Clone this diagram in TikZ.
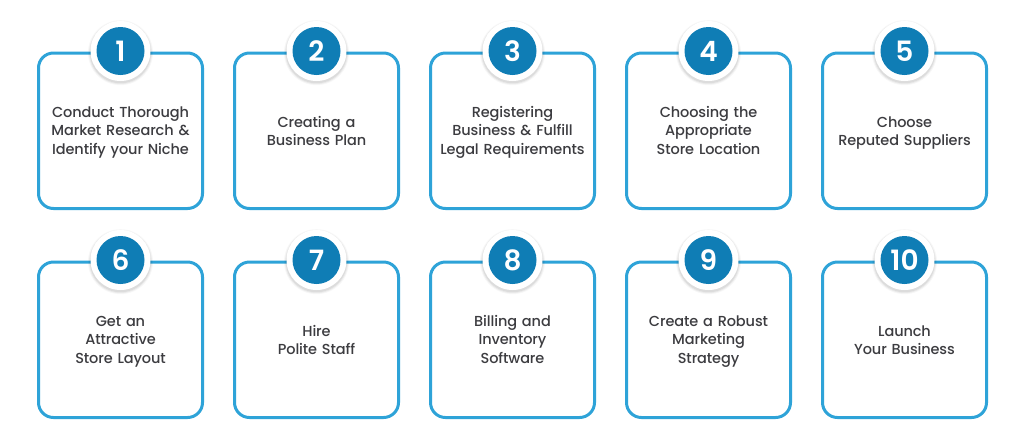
\documentclass[tikz,border=0pt]{standalone}
\usepackage{fontspec}
\setmainfont{Poppins Medium}[WordSpace=0.5,LetterSpace=-0.8]
\newfontfamily\numfont{Poppins SemiBold}
\usetikzlibrary{calc}
\definecolor{frameblue}{HTML}{2EA3D8}
\definecolor{discblue}{HTML}{0F7DB5}
\definecolor{labelgrey}{HTML}{3C3C40}
\tikzset{
  x=1pt,y=-1pt,
  card/.style={draw=frameblue,line width=3pt,fill=white,rounded corners=15pt,minimum width=164pt,minimum height=155.5pt,inner sep=0pt,outer sep=0pt},
  halo/.style={circle,fill=white,minimum size=60pt,inner sep=0pt,outer sep=0pt},
  disc/.style={circle,fill=discblue,minimum size=48pt,inner sep=0pt,text=white,font=\fontsize{28}{28}\numfont},
  caption/.style={align=center,text=labelgrey,font=\fontsize{14.5}{18.4}\selectfont,inner sep=0pt,text width=160pt},
}
\newcommand{\stepcard}[6]{% id, cx, top, number, text, text offset
  \node[card,anchor=north] (card#1) at (#2,#3) {};
  \foreach \r/\o in {32.5/.03,31.5/.05,30.5/.06}{
    \fill[black,opacity=\o] ($(#2,#3)+(0,-0.3)$) circle (\r pt);
  }
  \node[halo] (halo#1) at ($(#2,#3)+(0,-2)$) {};
  \node[disc] (disc#1) at ($(#2,#3)+(0,-2)$) {#4};
  \node[caption] (text#1) at ($(#2,#3)+(0,#6)$) {\strut #5\strut};
}
\begin{document}
\begin{tikzpicture}
\useasboundingbox (0,0) rectangle (1024,440);
\fill[white] (0,0) rectangle (1024,440);
\stepcard{1}{120.5}{53}{1}{Conduct Thorough\\Market Research \&\\Identify your Niche}{79.3}
\stepcard{2}{316.5}{53}{2}{Creating a\\Business Plan}{80}
\stepcard{3}{512.5}{53}{3}{Registering\\Business \& Fulfill\\Legal Requirements}{79.3}
\stepcard{4}{708.5}{53}{4}{Choosing the\\Appropriate\\Store Location}{79.3}
\stepcard{5}{904.5}{53}{5}{Choose\\Reputed Suppliers}{80}
\stepcard{6}{120.5}{262}{6}{Get an\\Attractive\\Store Layout}{79}
\stepcard{7}{316.5}{262}{7}{Hire\\Polite Staff}{80}
\stepcard{8}{512.5}{262}{8}{Billing and\\Inventory\\Software}{79}
\stepcard{9}{708.5}{262}{9}{Create a Robust\\Marketing\\Strategy}{79}
\stepcard{10}{904.5}{262}{10}{Launch\\Your Business}{80}
\end{tikzpicture}
\end{document}
